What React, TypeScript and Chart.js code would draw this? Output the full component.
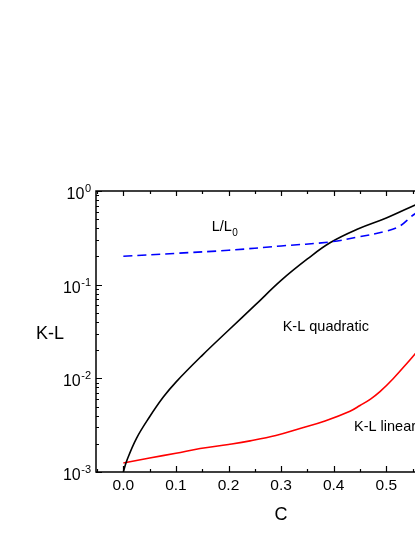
import React, { useEffect, useRef } from "react";
import { Chart, registerables } from "chart.js";

Chart.register(...registerables);

// ---- data ----
const quadC = [0, 0.0065, 0.025, 0.05, 0.076, 0.1, 0.15, 0.2, 0.25, 0.3, 0.35, 0.393, 0.447, 0.5, 0.555];
const quadKL = [0.001, 0.00132, 0.00229, 0.00389, 0.00631, 0.00912, 0.0176, 0.0326, 0.06, 0.111, 0.188, 0.28, 0.395, 0.515, 0.71];

const linC = [0, 0.05, 0.1, 0.146, 0.2, 0.241, 0.29, 0.336, 0.3835, 0.431, 0.45, 0.47, 0.488, 0.513, 0.539, 0.556];
const linKL = [0.00125, 0.00141, 0.001585, 0.00178, 0.00197, 0.00215, 0.00245, 0.00291, 0.00351, 0.00446, 0.00513, 0.006, 0.0072, 0.0099, 0.0144, 0.0186];

const ratioC = [0, 0.1, 0.2, 0.3, 0.393, 0.447, 0.5, 0.525, 0.547, 0.556];
const ratioL = [0.201, 0.216, 0.233, 0.259, 0.286, 0.323, 0.373, 0.42, 0.53, 0.58];

const xMajorTicks = [0.0, 0.1, 0.2, 0.3, 0.4, 0.5];
const xTickLabels = ["0.0", "0.1", "0.2", "0.3", "0.4", "0.5"];
const xMinorTicks = [-0.05, 0.05, 0.15, 0.25, 0.35, 0.45, 0.55];
const yDecades = [1, 0.1, 0.01, 0.001];
const yExponents = ["0", "-1", "-2", "-3"];

const xTitle = "C";
const yTitle = "K-L";

const FONT = '"Liberation Sans", Arial, sans-serif';

const toPts = (xs: number[], ys: number[]) => xs.map((x, i) => ({ x, y: ys[i] }));

const decor = {
  id: "decor",
  afterDraw(chart: any) {
    const { ctx, chartArea, scales } = chart;
    const { left, right, top, bottom } = chartArea;
    const x = scales.x;
    const y = scales.y;
    ctx.save();
    ctx.strokeStyle = "#000";
    ctx.fillStyle = "#000";
    ctx.lineWidth = 1.5;
    // frame
    ctx.beginPath();
    ctx.moveTo(right + 2, top);
    ctx.lineTo(left, top);
    ctx.lineTo(left, bottom);
    ctx.lineTo(right + 2, bottom);
    ctx.stroke();

    ctx.lineWidth = 1.2;
    ctx.beginPath();
    // x ticks (inward)
    xMajorTicks.forEach((v) => {
      const px = Math.round(x.getPixelForValue(v)) + 0.5;
      ctx.moveTo(px, bottom);
      ctx.lineTo(px, bottom - 6);
      ctx.moveTo(px, top);
      ctx.lineTo(px, top + 5);
    });
    xMinorTicks.forEach((v) => {
      const px = Math.round(x.getPixelForValue(v)) + 0.5;
      ctx.moveTo(px, bottom);
      ctx.lineTo(px, bottom - 3);
      ctx.moveTo(px, top);
      ctx.lineTo(px, top + 3);
    });
    // y ticks
    yDecades.forEach((d) => {
      const py = Math.round(y.getPixelForValue(d)) + 0.5;
      ctx.moveTo(left, py);
      ctx.lineTo(left + 6, py);
      if (d < 1) {
        for (let k = 2; k <= 9; k++) {
          const pm = Math.round(y.getPixelForValue(d * k)) + 0.5;
          ctx.moveTo(left, pm);
          ctx.lineTo(left + 3, pm);
        }
      }
    });
    ctx.stroke();

    // x labels
    ctx.font = `15.5px ${FONT}`;
    ctx.textAlign = "center";
    ctx.textBaseline = "alphabetic";
    xMajorTicks.forEach((v, i) => {
      ctx.fillText(xTickLabels[i], x.getPixelForValue(v), bottom + 18);
    });

    // y labels 10^n
    const rightEdge = left - 5;
    yDecades.forEach((d, i) => {
      const py = y.getPixelForValue(d);
      ctx.font = `11px ${FONT}`;
      ctx.textAlign = "left";
      const we = ctx.measureText(yExponents[i]).width;
      ctx.fillText(yExponents[i], rightEdge - we, py + 1);
      ctx.font = `16px ${FONT}`;
      ctx.textAlign = "right";
      ctx.fillText("10", rightEdge - we - 0.5, py + 8);
    });

    // axis titles
    ctx.font = `18px ${FONT}`;
    ctx.textAlign = "center";
    ctx.fillText(yTitle, 50, (top + bottom) / 2 + 7);
    ctx.fillText(xTitle, 281, bottom + 48);

    // annotations
    ctx.textAlign = "left";
    ctx.font = `14.5px ${FONT}`;
    const lx = x.getPixelForValue(0.168);
    const ly = y.getPixelForValue(0.374);
    ctx.fillText("L/L", lx, ly);
    const wl = ctx.measureText("L/L").width;
    ctx.font = `10px ${FONT}`;
    ctx.fillText("0", lx + wl + 0.5, ly + 5);
    ctx.font = `14.5px ${FONT}`;
    ctx.fillText("K-L quadratic", x.getPixelForValue(0.303), y.getPixelForValue(0.0321));
    ctx.fillText("K-L linear", x.getPixelForValue(0.4386), y.getPixelForValue(0.00275));
    ctx.restore();
  },
};

export default function App() {
  const ref = useRef<HTMLCanvasElement | null>(null);
  useEffect(() => {
    if (!ref.current) return;
    const chart = new Chart(ref.current, {
      type: "line",
      data: {
        datasets: [
          {
            label: "L/L0",
            data: toPts(ratioC, ratioL),
            borderColor: "#0000ff",
            borderWidth: 1.6,
            borderDash: [9, 5],
            pointRadius: 0,
            tension: 0.4,
          },
          {
            label: "K-L quadratic",
            data: toPts(quadC, quadKL),
            borderColor: "#000000",
            borderWidth: 1.6,
            pointRadius: 0,
            tension: 0.4,
          },
          {
            label: "K-L linear",
            data: toPts(linC, linKL),
            borderColor: "#ff0000",
            borderWidth: 1.6,
            pointRadius: 0,
            tension: 0.4,
          },
        ],
      },
      options: {
        animation: false,
        responsive: true,
        maintainAspectRatio: false,
        layout: { padding: { top: 191, left: 0, right: 0, bottom: 0 } },
        plugins: { legend: { display: false }, tooltip: { enabled: false } },
        scales: {
          x: {
            type: "linear",
            min: -0.052,
            max: 0.5546,
            ticks: { display: false },
            grid: { display: false },
            border: { display: false },
            afterFit: (s: any) => {
              s.height = 65;
            },
          },
          y: {
            type: "logarithmic",
            min: 0.001,
            max: 1,
            ticks: { display: false },
            grid: { display: false },
            border: { display: false },
            afterFit: (s: any) => {
              s.width = 96;
            },
          },
        },
      },
      plugins: [decor],
    } as any);
    return () => chart.destroy();
  }, []);
  return (
    <div style={{ position: "absolute", left: 0, top: 0, width: 415, height: 537, background: "#fff" }}>
      <canvas ref={ref} />
    </div>
  );
}
